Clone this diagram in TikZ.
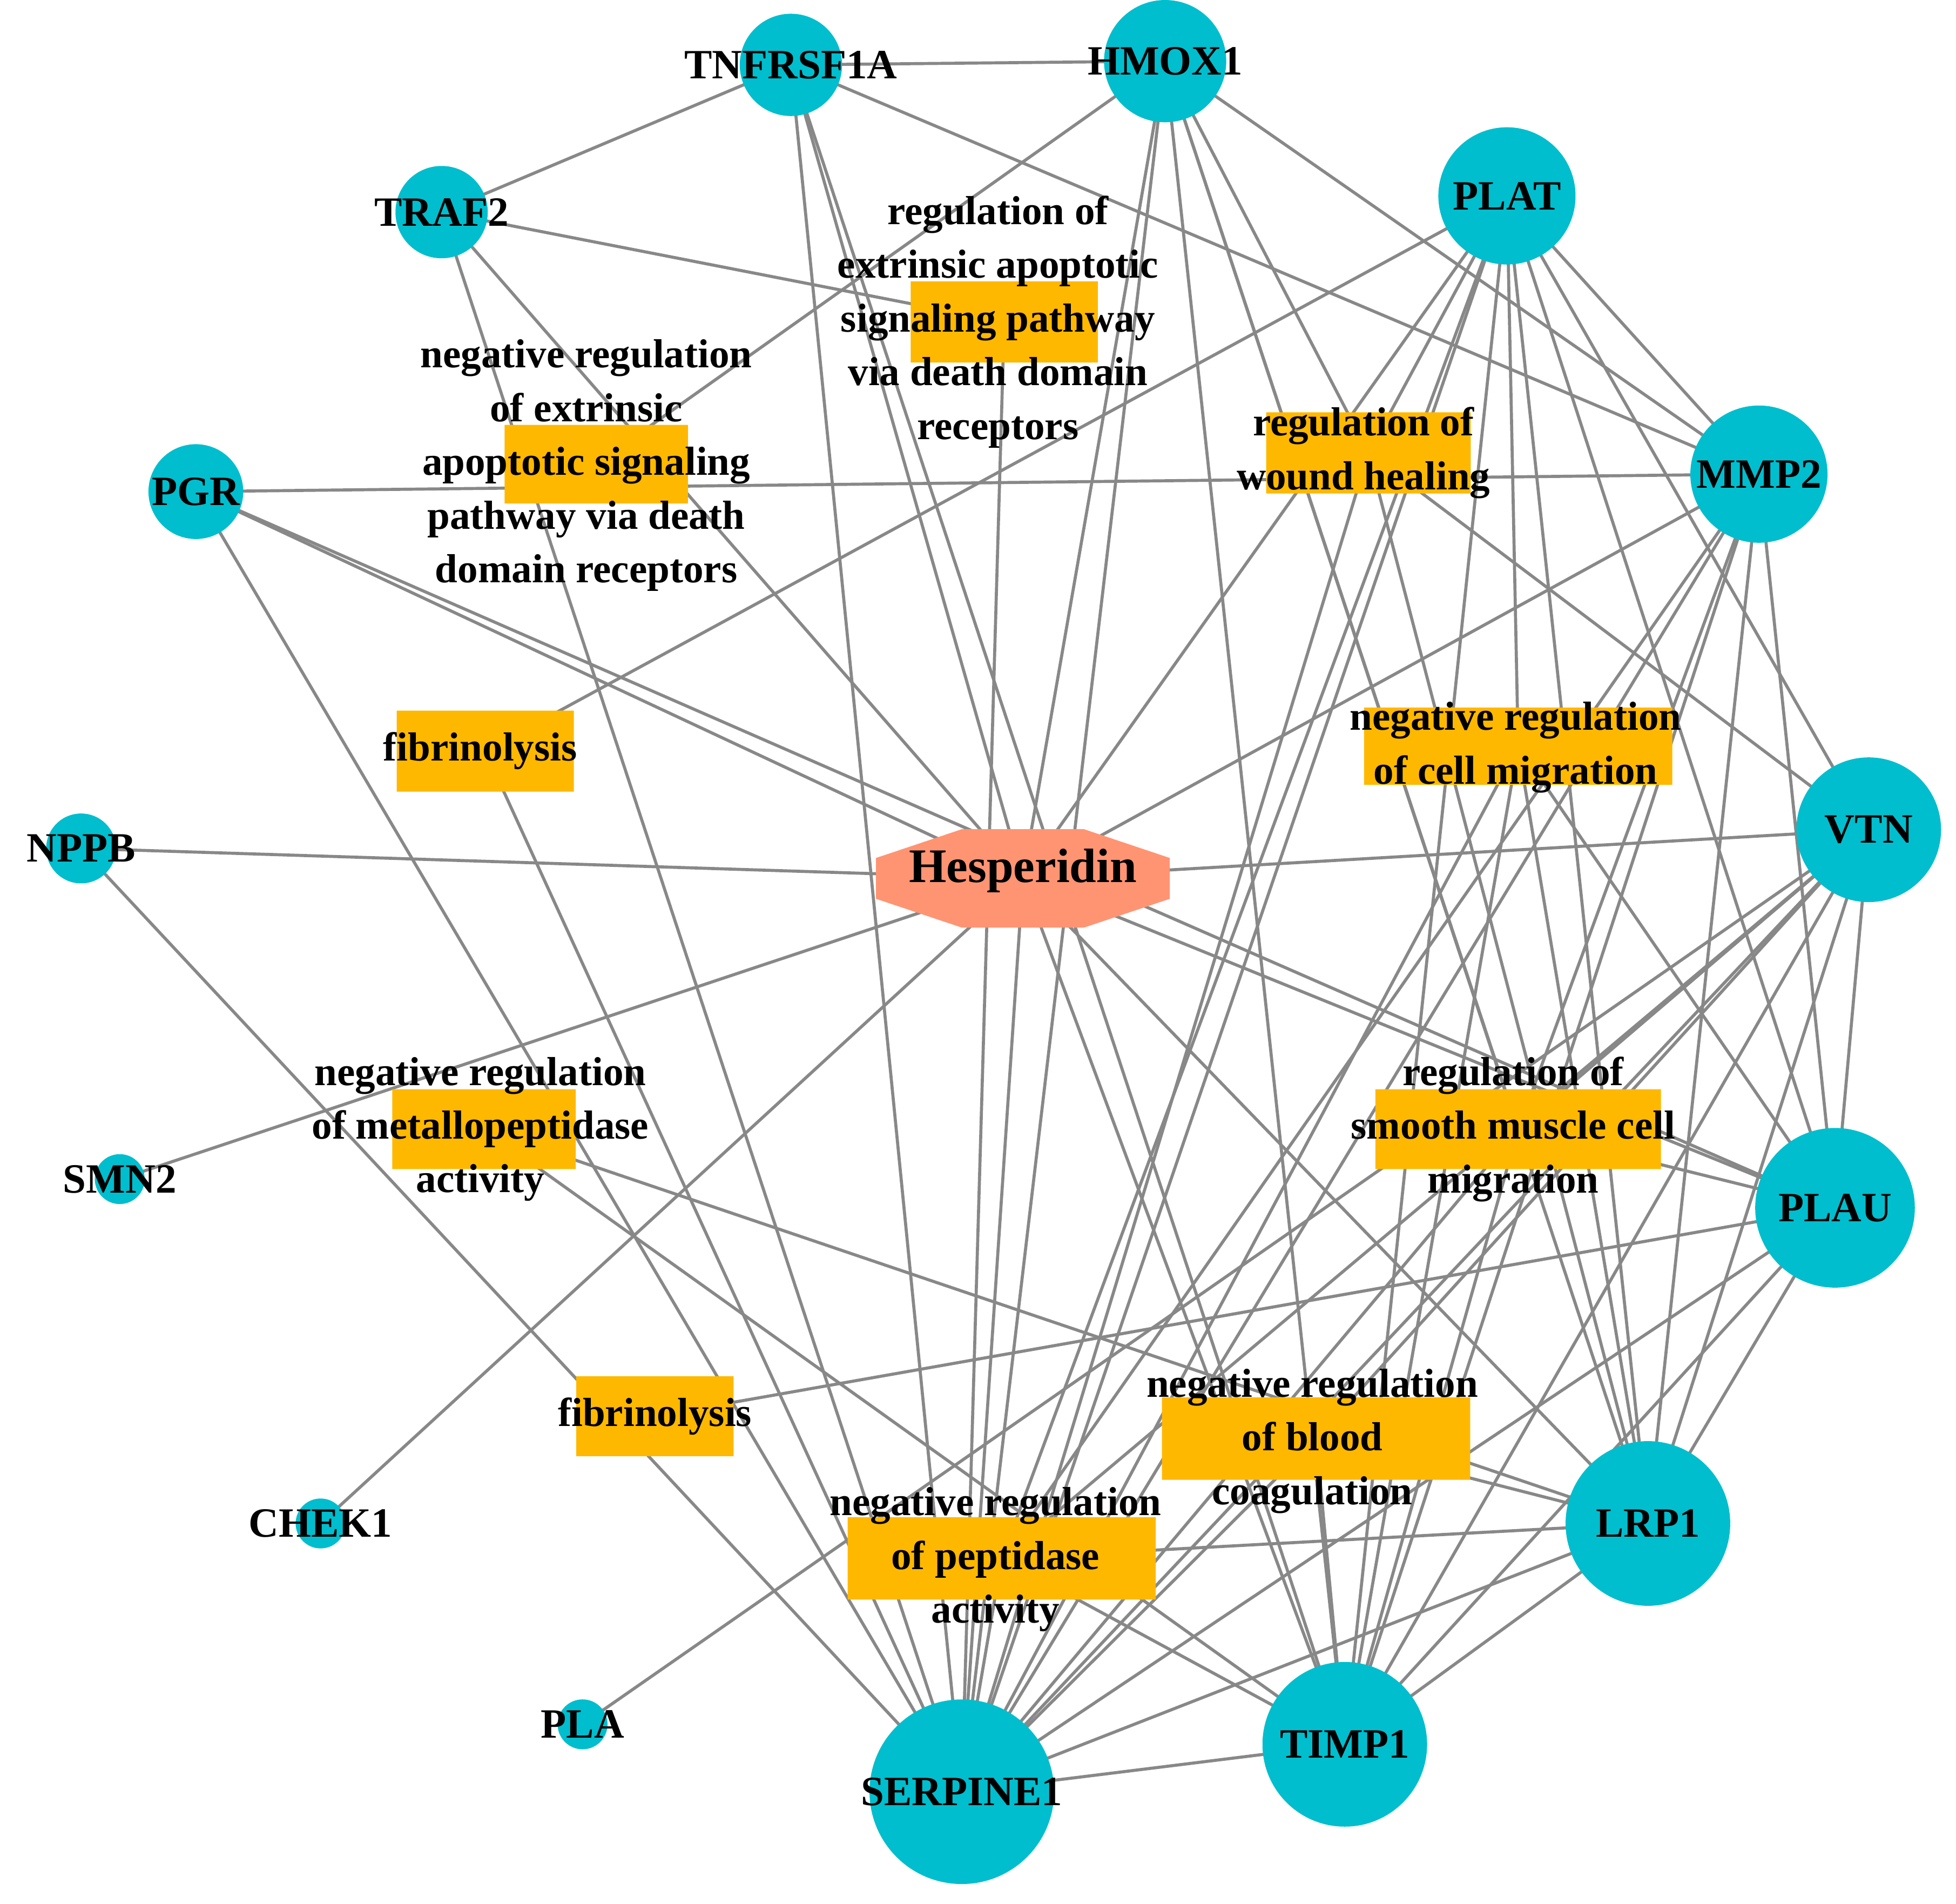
\documentclass[tikz,border=0pt]{standalone}
\usepackage{fontspec}
\setmainfont{Liberation Serif}
\usetikzlibrary{shapes.misc,shapes.geometric}
\pgfdeclarelayer{bg}\pgfsetlayers{bg,main}
\definecolor{gene}{RGB}{0,190,205}
\definecolor{term}{RGB}{255,184,0}
\definecolor{drug}{RGB}{255,148,115}
\definecolor{edge}{RGB}{136,136,136}
\begin{document}
\begin{tikzpicture}[x=0.02cm,y=-0.02cm,
  lab/.style={font=\fontsize{19}{22}\selectfont\bfseries,text=black},
  g/.style={circle,fill=gene,inner sep=0pt,minimum size=#1*0.04cm,label={[lab]center:\mylab}},
  t/.style n args={2}{chamfered rectangle,chamfered rectangle xsep=#1*0.006cm,chamfered rectangle ysep=#2*0.009cm,fill=term,inner sep=0pt,minimum width=#1*0.02cm,minimum height=#2*0.02cm},
  tt/.style={font=\fontsize{18.5}{24.5}\selectfont\bfseries,align=center,inner sep=0pt},
  e/.style={draw=edge,line width=1.4pt}]
\useasboundingbox (0,0) rectangle (1568,1525.6);
% genes
\def\mylab{TNFRSF1A}\node[g=41] (T) at (634,52) {};
\def\mylab{HMOX1}\node[g=49] (HM) at (934,49) {};
\def\mylab{TRAF2}\node[g=37] (TR) at (354,170) {};
\def\mylab{PLAT}\node[g=55] (PT) at (1208,157) {};
\def\mylab{MMP2}\node[g=55] (MM) at (1410,380) {};
\def\mylab{PGR}\node[g=38] (PG) at (157,394) {};
\def\mylab{VTN}\node[g=58] (VT) at (1498,665) {};
\def\mylab{NPPB}\node[g=28] (NP) at (65,680) {};
\def\mylab{SMN2}\node[g=20] (SM) at (96,945) {};
\def\mylab{CHEK1}\node[g=20] (CH) at (257,1221) {};
\def\mylab{PLA}\node[g=20] (PA) at (467,1382) {};
\def\mylab{PLAU}\node[g=64] (PU) at (1471,968) {};
\def\mylab{LRP1}\node[g=66] (LR) at (1321,1221) {};
\def\mylab{TIMP1}\node[g=66] (TI) at (1078,1398) {};
\def\mylab{SERPINE1}\node[g=74] (SE) at (771,1436) {};
% drug
\node[regular polygon,regular polygon sides=8,fill=drug,minimum size=3cm,xscale=1.7,yscale=0.57,inner sep=0pt] (He) at (820,704) {};
\node[font=\fontsize{22}{26}\selectfont\bfseries] (Het) at (820,698) {Hesperidin};
% terms
\node[t={150}{65}] (h1) at (805,258) {};
\node[t={147}{63}] (h2) at (478,372) {};
\node[t={164}{65}] (h3) at (1097,363) {};
\node[t={142}{65}] (h4) at (389,602) {};
\node[t={247}{62}] (h5) at (1217,598) {};
\node[t={147}{64}] (h6) at (388,905) {};
\node[t={229}{64}] (h7) at (1217,905) {};
\node[t={126}{64}] (h8) at (525,1135) {};
\node[t={247}{66}] (h9) at (1055,1153) {};
\node[t={247}{66}] (h10) at (803,1249) {};
\node[tt] (h1t) at (800,258) {regulation of\\extrinsic apoptotic\\signaling pathway\\via death domain\\receptors};
\node[tt] (h2t) at (470,373) {negative regulation\\of extrinsic\\apoptotic signaling\\pathway via death\\domain receptors};
\node[tt] (h3t) at (1093,363) {regulation of\\wound healing};
\node[tt] (h4t) at (385,602) {fibrinolysis};
\node[tt] (h5t) at (1215,599) {negative regulation\\of cell migration};
\node[tt] (h6t) at (385,905) {negative regulation\\of metallopeptidase\\activity};
\node[tt] (h7t) at (1213,905) {regulation of\\smooth muscle cell\\migration};
\node[tt] (h8t) at (525,1135) {fibrinolysis};
\node[tt] (h9t) at (1052,1155) {negative regulation\\of blood\\coagulation};
\node[tt] (h10t) at (798,1250) {negative regulation\\of peptidase\\activity};
\begin{pgfonlayer}{bg}
\foreach \a/\b in {T/HM,T/TR,T/MM,T/SE,T/He,T/TI,
 TR/h1,TR/He,TR/SE,
 HM/h2,HM/MM,HM/He,HM/SE,HM/TI,HM/LR,HM/h7,HM/h3,
 h1/SE,
 PG/MM,PG/He,PG/PU,PG/SE,
 h4/PT,h4/SE,NP/He,NP/SE,SM/He,CH/He,PA/VT,
 h6/TI,h6/LR,h8/PU,
 He/VT,He/MM,He/PT,He/PU,He/LR,He/TI,He/SE,
 PT/h3,PT/SE,PT/TI,PT/MM,PT/VT,PT/PU,PT/LR,PT/h5,PT/h10,
 h3/VT,h3/SE,h3/LR,
 MM/SE,MM/TI,MM/LR,MM/PU,MM/h7,MM/h10,
 h5/SE,h5/TI,h5/LR,h5/PU,
 VT/SE,VT/TI,VT/LR,VT/PU,VT/h7,VT/h9,VT/h10,
 h7/PU,h7/SE,h7/TI,
 PU/SE,PU/TI,PU/LR,
 LR/TI,LR/SE,LR/h10,LR/h9,
 TI/SE,TI/h10,h9/SE,h9/TI,h10/SE}
 \draw[e] (\a.center) -- (\b.center);
\end{pgfonlayer}
\end{tikzpicture}
\end{document}
